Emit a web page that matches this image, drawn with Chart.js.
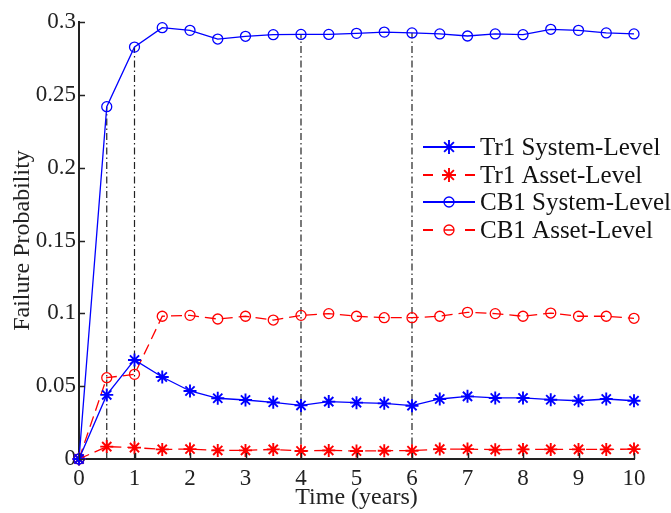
<!DOCTYPE html>
<html>
<head>
<meta charset="utf-8">
<script src="https://cdn.jsdelivr.net/npm/chart.js@4/dist/chart.umd.min.js"></script>
<style>
  html, body { margin: 0; padding: 0; background: #fff; }
  #wrap { width: 671px; height: 513px; }
</style>
</head>
<body>
<div id="wrap"><canvas id="failureChart" width="671" height="513"></canvas></div>
<script>
// values
const years = [0, 0.5, 1, 1.5, 2, 2.5, 3, 3.5, 4, 4.5, 5, 5.5, 6, 6.5, 7, 7.5, 8, 8.5, 9, 9.5, 10];
const tr1System = [0, 0.0440, 0.0680, 0.0563, 0.0467, 0.0417, 0.0405, 0.0389, 0.0368, 0.0394, 0.0387,
                   0.0382, 0.0366, 0.0412, 0.0430, 0.0419, 0.0419, 0.0407, 0.0400, 0.0412, 0.0400];
const tr1Asset = [0, 0.0085, 0.0078, 0.0066, 0.0068, 0.0059, 0.0059, 0.0066, 0.0055, 0.0059, 0.0055,
                  0.0057, 0.0057, 0.0068, 0.0068, 0.0064, 0.0066, 0.0066, 0.0066, 0.0066, 0.0068];
const cb1System = [0, 0.2419, 0.2828, 0.2961, 0.2943, 0.2883, 0.2902, 0.2913, 0.2915, 0.2915, 0.2922,
                   0.2931, 0.2925, 0.2918, 0.2904, 0.2918, 0.2913, 0.2950, 0.2943, 0.2925, 0.2918];
const cb1Asset = [0, 0.0558, 0.0581, 0.0980, 0.0986, 0.0961, 0.0980, 0.0954, 0.0986, 0.0998, 0.0980,
                  0.0970, 0.0970, 0.0980, 0.1007, 0.0998, 0.0980, 0.1002, 0.0980, 0.0980, 0.0966];
const guideYears = [0.5, 1, 4, 6];
const xTickLabels = ['0', '1', '2', '3', '4', '5', '6', '7', '8', '9', '10'];
const yTickLabels = ['0', '0.05', '0.1', '0.15', '0.2', '0.25', '0.3'];
const seriesNames = ['Tr1 System-Level', 'Tr1 Asset-Level', 'CB1 System-Level', 'CB1 Asset-Level'];

const FONT = '"Liberation Serif", "Times New Roman", serif';
const BLUE = '#0000ff';
const RED = '#ff0000';

function toPoints(vals) {
    return years.map((x, i) => ({ x: x, y: vals[i] }));
}

function series(label, vals, color, dashed, marker) {
    return {
        label: label,
        data: toPoints(vals),
        borderColor: color,
        borderWidth: 1.3,
        borderDash: dashed ? [11, 6] : [],
        pointStyle: marker,
        pointRadius: marker === 'star' ? 6.5 : 5,
        pointBorderWidth: marker === 'star' ? 1.9 : 1.3,
        pointBorderColor: color,
        pointBackgroundColor: 'rgba(0,0,0,0)',
        fill: false,
        tension: 0,
        clip: false,
        order: 1
    };
}

// dash-dot guides from the axis up to the CB1 system-level value
const guides = guideYears.map(gx => ({
    label: '',
    data: [{ x: gx, y: 0 }, { x: gx, y: cb1System[years.indexOf(gx)] }],
    borderColor: '#222',
    borderWidth: 1.2,
    borderDash: [7, 3, 1.5, 3],
    pointRadius: 0,
    fill: false,
    order: 10
}));

const datasets = [
    series(seriesNames[0], tr1System, BLUE, false, 'star'),
    series(seriesNames[1], tr1Asset, RED, true, 'star'),
    series(seriesNames[2], cb1System, BLUE, false, 'circle'),
    series(seriesNames[3], cb1Asset, RED, true, 'circle')
].concat(guides);

// MATLAB-style ticks pointing into the plot
const innerTicks = {
    id: 'innerTicks',
    afterDraw(chart) {
        const ctx = chart.ctx;
        const area = chart.chartArea;
        const xs = chart.scales.x, ys = chart.scales.y;
        ctx.save();
        ctx.strokeStyle = '#222';
        ctx.lineWidth = 1.5;
        ctx.beginPath();
        xs.ticks.forEach(t => {
            const px = Math.round(xs.getPixelForValue(t.value)) + 0.5;
            ctx.moveTo(px, area.bottom);
            ctx.lineTo(px, area.bottom - 6);
        });
        ys.ticks.forEach(t => {
            const py = Math.round(ys.getPixelForValue(t.value)) + 0.5;
            ctx.moveTo(area.left, py);
            ctx.lineTo(area.left + 6, py);
        });
        ctx.stroke();
        ctx.restore();
    }
};

// legend drawn like the MATLAB one, without a box
const matlabLegend = {
    id: 'matlabLegend',
    afterDraw(chart) {
        const ctx = chart.ctx;
        const x0 = 423, x1 = 475, textX = 480;
        const rowY = [147, 175, 202, 230];
        ctx.save();
        ctx.font = '25px ' + FONT;
        ctx.textBaseline = 'middle';
        ctx.fillStyle = '#111';
        chart.data.datasets.slice(0, 4).forEach((ds, i) => {
            const y = rowY[i];
            ctx.strokeStyle = ds.borderColor;
            ctx.lineWidth = 2;
            ctx.beginPath();
            if (ds.borderDash.length) {
                ctx.moveTo(x0, y); ctx.lineTo(x0 + 10, y);
                ctx.moveTo(x1 - 10, y); ctx.lineTo(x1, y);
            } else {
                ctx.moveTo(x0, y); ctx.lineTo(x1, y);
            }
            ctx.stroke();
            const mx = (x0 + x1) / 2;
            ctx.lineWidth = ds.pointBorderWidth;
            ctx.beginPath();
            if (ds.pointStyle === 'star') {
                const r = 7;
                ctx.moveTo(mx - r, y); ctx.lineTo(mx + r, y);
                ctx.moveTo(mx, y - r); ctx.lineTo(mx, y + r);
                const d = r * 0.7;
                ctx.moveTo(mx - d, y - d); ctx.lineTo(mx + d, y + d);
                ctx.moveTo(mx - d, y + d); ctx.lineTo(mx + d, y - d);
            } else {
                ctx.arc(mx, y, 5, 0, Math.PI * 2);
                if (ds.borderDash.length) {
                    ctx.moveTo(mx - 5, y); ctx.lineTo(mx + 5, y);
                }
            }
            ctx.stroke();
            ctx.fillText(ds.label, textX, y + 1);
        });
        ctx.restore();
    }
};

new Chart(document.getElementById('failureChart'), {
    type: 'line',
    data: { datasets: datasets },
    options: {
        responsive: false,
        animation: false,
        events: [],
        layout: { padding: { left: 0, right: 37, top: 22, bottom: 0 } },
        plugins: {
            legend: { display: false },
            tooltip: { enabled: false }
        },
        scales: {
            x: {
                type: 'linear',
                min: 0,
                max: 10,
                afterFit: (s) => { s.height = 54; },
                border: { display: true, color: '#222', width: 2 },
                grid: { display: true, drawOnChartArea: false, drawTicks: false },
                ticks: {
                    stepSize: 1,
                    padding: 6,
                    color: '#222',
                    font: { family: FONT, size: 23 },
                    callback: (v, i) => xTickLabels[i]
                },
                title: {
                    display: true,
                    text: 'Time (years)',
                    color: '#222',
                    font: { family: FONT, size: 24 },
                    padding: { top: 0, bottom: 1 }
                }
            },
            y: {
                type: 'linear',
                min: 0,
                max: 0.3,
                afterFit: (s) => { s.width = 79; },
                border: { display: true, color: '#222', width: 2 },
                grid: { display: true, drawOnChartArea: false, drawTicks: false },
                ticks: {
                    stepSize: 0.05,
                    padding: 3,
                    color: '#222',
                    font: { family: FONT, size: 23 },
                    callback: (v, i) => yTickLabels[i]
                },
                title: {
                    display: true,
                    text: 'Failure Probability',
                    color: '#222',
                    font: { family: FONT, size: 24 },
                    padding: { top: 8, bottom: 0 }
                }
            }
        }
    },
    plugins: [innerTicks, matlabLegend]
});
</script>
</body>
</html>
